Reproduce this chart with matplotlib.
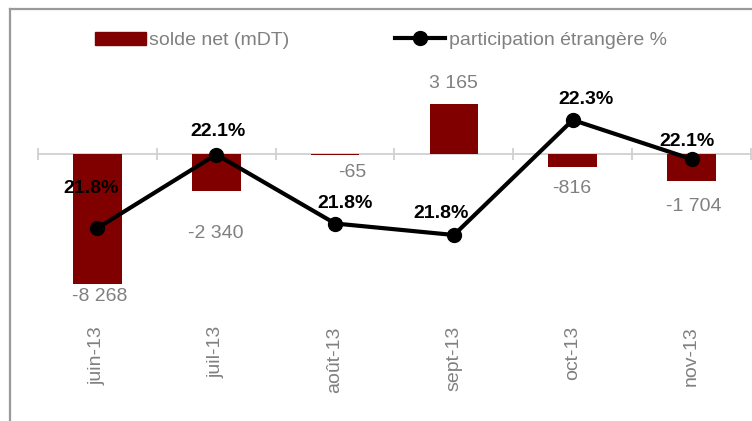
import matplotlib.pyplot as plt
from matplotlib.lines import Line2D
from matplotlib.patches import Patch

plt.rcParams['font.family'] = ['Liberation Sans', 'DejaVu Sans']

# data
months = ['juin-13', 'juil-13', 'août-13', 'sept-13', 'oct-13', 'nov-13']
solde_net = [-8268, -2340, -65, 3165, -816, -1704]
participation = [21.82, 22.14, 21.84, 21.79, 22.29, 22.12]
solde_labels = ['-8 268', '-2 340', '-65', '3 165', '-816', '-1 704']
part_labels = ['21.8%', '22.1%', '21.8%', '21.8%', '22.3%', '22.1%']

# label offsets in pixels (style only)
solde_off = [(2, -13), (0, -43), (17, -17), (0, 21), (-1, -22), (2, -26)]
part_off = [(-6, 40), (2, 23), (10, 20), (-13, 22), (13, 20), (-5, 18)]

W, H = 752, 421
fig = plt.figure(figsize=(W / 100, H / 100), dpi=100)
gray_txt = '#808080'
bar_col = '#800000'

# axes from x=38..751 px, y=40..310 px
ax = fig.add_axes([38 / W, 1 - 310 / H, (751 - 38) / W, 270 / H])
ax.set_facecolor('none')
x = list(range(len(months)))
ax.bar(x, solde_net, width=0.41, color=bar_col, zorder=3)
ax.set_xlim(-0.5, 5.5)
ax.set_ylim(-156 / 0.01572, 114 / 0.01572)

for s in ['top', 'right', 'left']:
    ax.spines[s].set_visible(False)
ax.spines['bottom'].set_position(('data', 0))
ax.spines['bottom'].set_color('#d0d0d0')
ax.spines['bottom'].set_linewidth(1.3)
ax.set_yticks([])
ax.set_xticks(x)
ax.set_xticklabels(months, rotation=90, color=gray_txt, fontsize=14)
ax.tick_params(axis='x', which='major', length=0, pad=124)
ax.set_xticks([i - 0.5 for i in range(len(months) + 1)], minor=True)
ax.tick_params(axis='x', which='minor', direction='inout', length=9,
               width=1.3, color='#d0d0d0')

for xi, v, lab, (dx, dy) in zip(x, solde_net, solde_labels, solde_off):
    ax.annotate(lab, (xi, v), xytext=(dx, dy), textcoords='offset pixels',
                ha='center', va='center', color=gray_txt, fontsize=14)

ax2 = ax.twinx()
ax2.set_ylim(22.29 - 190 / 230, 22.29 + 80 / 230)
ax2.plot(x, participation, color='black', lw=3, marker='o', markersize=10,
         zorder=3)
ax2.axis('off')
for xi, v, lab, (dx, dy) in zip(x, participation, part_labels, part_off):
    ax2.annotate(lab, (xi, v), xytext=(dx, dy), textcoords='offset pixels',
                 ha='center', va='center', color='black', fontsize=14,
                 fontweight='bold')

# frame around chart area (runs off right and bottom)
fig.add_artist(Line2D([9.5 / W, 9.5 / W], [0, 1 - 8.5 / H],
                      transform=fig.transFigure, color='#9a9a9a', lw=1.6))
fig.add_artist(Line2D([9.5 / W, 1], [1 - 8.5 / H, 1 - 8.5 / H],
                      transform=fig.transFigure, color='#9a9a9a', lw=1.6))

handles = [Patch(color=bar_col),
           Line2D([], [], color='black', lw=3, marker='o', markersize=10)]
fig.legend(handles, ['solde net (mDT)', 'participation étrangère %'],
           loc='center left', bbox_to_anchor=(95 / W, 1 - 40.5 / H),
           ncol=2, frameon=False, fontsize=14, labelcolor=gray_txt,
           handlelength=2.6, handletextpad=0.2, columnspacing=5.4,
           borderpad=0, borderaxespad=0)

fig.savefig('out.png', dpi=100)
